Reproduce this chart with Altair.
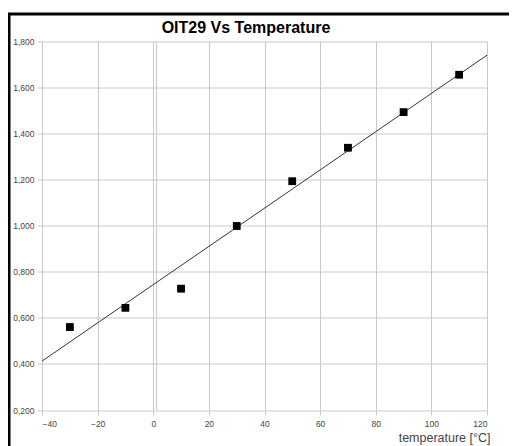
import altair as alt
import pandas as pd

# ---- data ----
temperature = [-30, -10, 10, 30, 50, 70, 90, 110]
oit29 = [0.560, 0.644, 0.727, 0.999, 1.193, 1.339, 1.493, 1.656]
x_ticks = [-40, -20, 0, 20, 40, 60, 80, 100, 120]
y_ticks = [0.2, 0.4, 0.6, 0.8, 1.0, 1.2, 1.4, 1.6, 1.8]
x_domain = [-40, 120]
y_domain = [0.2, 1.8]
axis_line_x = [1.2]
title_text = ["OIT29 Vs Temperature"]

df = pd.DataFrame({"temperature": temperature, "oit29": oit29})
axis_df = pd.DataFrame({"x": axis_line_x})
title_df = pd.DataFrame({"t": title_text})
one = pd.DataFrame({"a": [0]})

FONT = "Liberation Sans"
xscale = alt.Scale(domain=x_domain, nice=False, zero=False)
yscale = alt.Scale(domain=y_domain, nice=False, zero=False)

xaxis = alt.Axis(values=x_ticks, title="temperature [°C]", grid=True,
                 tickSize=5, labelPadding=4, titleX=448, titleY=31,
                 titleAlign="right", titleBaseline="alphabetic",
                 titleFont=FONT, titleFontSize=12.5, titleFontWeight="normal",
                 titleColor="#444")
yaxis = alt.Axis(values=y_ticks, title=None, grid=True, tickSize=5,
                 labelPadding=3,
                 labelExpr="replace(format(datum.value, '.3f'), '.', ',')")

base = alt.Chart(df)

points = base.mark_square(size=56, color="black", opacity=1).encode(
    x=alt.X("temperature:Q", scale=xscale, axis=xaxis),
    y=alt.Y("oit29:Q", scale=yscale, axis=yaxis),
)

fit = base.transform_regression(
    "temperature", "oit29", extent=x_domain
).mark_line(color="#333333", strokeWidth=1).encode(
    x=alt.X("temperature:Q", scale=xscale),
    y=alt.Y("oit29:Q", scale=yscale),
)

zero_line = alt.Chart(axis_df).mark_rule(color="#c8c8c8", strokeWidth=1).encode(
    x=alt.X("x:Q", scale=xscale)
)

title_mark = alt.Chart(title_df).mark_text(
    font=FONT, fontSize=16, fontWeight="bold", color="black",
    align="center", baseline="alphabetic"
).encode(text="t:N", x=alt.value(204), y=alt.value(-8.5))

frame_left = alt.Chart(one).mark_rule(color="black", strokeWidth=3).encode(
    x=alt.value(-33), y=alt.value(-27.5), y2=alt.value(420)
)
frame_top = alt.Chart(one).mark_rule(color="black", strokeWidth=3).encode(
    x=alt.value(-34.5), x2=alt.value(470), y=alt.value(-27.5)
)

chart = alt.layer(points, zero_line, fit, points, title_mark, frame_left, frame_top).properties(
    width=445,
    height=368.5,
    padding={"left": 34, "top": 33.5, "right": 22, "bottom": 36},
    autosize=alt.AutoSizeParams(type="none"),
    background="white",
).configure_view(stroke=None).configure_axis(
    gridColor="#c8c8c8", tickColor="#c8c8c8", domain=False,
    labelFont=FONT, labelFontSize=8.5, labelColor="#444444",
)

chart.save("out.html", embed_options={"renderer": "svg", "actions": False})
